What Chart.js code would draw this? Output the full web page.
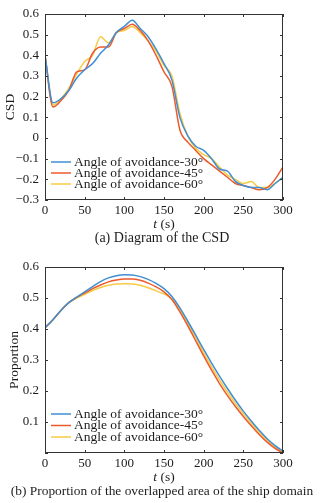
<!DOCTYPE html>
<html>
<head>
<meta charset="utf-8">
<script src="https://cdn.jsdelivr.net/npm/chart.js@4/dist/chart.umd.min.js"></script>
<style>
  html, body { margin: 0; padding: 0; background: #fff; }
  canvas { display: block; }
</style>
</head>
<body>
<canvas id="csdChart" width="324" height="250"></canvas>
<canvas id="propChart" width="324" height="253"></canvas>
<script>
// --- data ---
const seriesNames = ["Angle of avoidance-30°", "Angle of avoidance-45°", "Angle of avoidance-60°"];
const seriesColors = ["#3f8fd4", "#ec5a2c", "#f6cb45"];

const csdTime = [0, 10, 20, 30, 40, 50, 60, 70, 80, 90, 100, 110, 120, 130, 140, 150, 160, 170, 180, 190,
  200, 210, 220, 230, 240, 250, 260, 270, 280, 290, 300];
const csd30 = [0.40, 0.17, 0.19, 0.23, 0.29, 0.33, 0.36, 0.41, 0.45, 0.51, 0.54, 0.57, 0.53, 0.49, 0.43, 0.36,
  0.28, 0.10, 0.01, -0.04, -0.06, -0.10, -0.15, -0.16, -0.21, -0.23, -0.24, -0.24, -0.25, -0.22, -0.19];
const csd45 = [0.40, 0.15, 0.18, 0.23, 0.32, 0.33, 0.41, 0.44, 0.44, 0.51, 0.53, 0.55, 0.52, 0.47, 0.40, 0.32,
  0.25, 0.04, -0.02, -0.06, -0.10, -0.13, -0.16, -0.19, -0.22, -0.23, -0.24, -0.25, -0.24, -0.20, -0.14];
const csd60 = [0.40, 0.16, 0.19, 0.24, 0.31, 0.37, 0.40, 0.49, 0.46, 0.51, 0.52, 0.54, 0.51, 0.47, 0.42, 0.35,
  0.30, 0.12, 0.01, -0.05, -0.08, -0.10, -0.14, -0.18, -0.20, -0.22, -0.21, -0.24, -0.24, -0.22, -0.19];

const propTime = csdTime;
const prop30 = [0.404, 0.43, 0.46, 0.485, 0.503, 0.52, 0.537, 0.553, 0.565, 0.572, 0.575, 0.574, 0.569, 0.560,
  0.547, 0.530, 0.505, 0.468, 0.425, 0.38, 0.334, 0.29, 0.248, 0.208, 0.17, 0.135, 0.103, 0.073, 0.046, 0.024, 0.006];
const prop45 = [0.404, 0.43, 0.46, 0.485, 0.502, 0.516, 0.53, 0.542, 0.552, 0.558, 0.561, 0.561, 0.557, 0.548,
  0.536, 0.52, 0.495, 0.455, 0.41, 0.362, 0.313, 0.267, 0.224, 0.185, 0.15, 0.118, 0.088, 0.06, 0.035, 0.015, 0.0];
const prop60 = [0.404, 0.43, 0.46, 0.485, 0.5, 0.512, 0.524, 0.534, 0.541, 0.545, 0.546, 0.545, 0.541, 0.533,
  0.523, 0.513, 0.497, 0.462, 0.418, 0.372, 0.323, 0.278, 0.236, 0.196, 0.16, 0.127, 0.096, 0.067, 0.042, 0.02, 0.006];

const xTicks = [0, 50, 100, 150, 200, 250, 300];

const FONT = "'Liberation Serif', 'Times New Roman', serif";
const TXT = "#1c1c1c";

function toPoints(xs, ys) {
  return xs.map((x, i) => ({ x: x, y: ys[i] }));
}

function fmt(v) {
  if (Math.abs(v) < 1e-9) return "0";
  return v.toFixed(1).replace("-", "\u2212");
}

// frame, inward ticks, legend, x title and caption
const decorPlugin = {
  id: "decor",
  afterDraw(chart, args, opts) {
    const ctx = chart.ctx;
    const a = chart.chartArea;
    const xs = chart.scales.x, ys = chart.scales.y;
    ctx.save();
    ctx.strokeStyle = "#333";
    ctx.lineWidth = 1;
    ctx.strokeRect(a.left + 0.5, a.top + 0.5, a.right - a.left - 1, a.bottom - a.top - 1);
    ctx.beginPath();
    xs.ticks.forEach(t => {
      const px = Math.round(xs.getPixelForValue(t.value)) + 0.5;
      ctx.moveTo(px, a.bottom); ctx.lineTo(px, a.bottom - 3);
      ctx.moveTo(px, a.top); ctx.lineTo(px, a.top + 3);
    });
    ys.ticks.forEach(t => {
      const py = Math.round(ys.getPixelForValue(t.value)) + 0.5;
      ctx.moveTo(a.left, py); ctx.lineTo(a.left + 3, py);
      ctx.moveTo(a.right, py); ctx.lineTo(a.right - 3, py);
    });
    ctx.stroke();

    // legend
    ctx.font = "13.5px " + FONT;
    ctx.textBaseline = "middle";
    ctx.textAlign = "left";
    chart.data.datasets.forEach((ds, i) => {
      const y = opts.legendY + i * opts.legendGap;
      ctx.strokeStyle = ds.borderColor;
      ctx.lineWidth = 1.5;
      ctx.beginPath();
      ctx.moveTo(opts.legendX, y); ctx.lineTo(opts.legendX + 20, y);
      ctx.stroke();
      ctx.fillStyle = TXT;
      ctx.fillText(ds.label, opts.legendX + 23, y);
    });

    // x axis title: italic t + " (s)"
    ctx.fillStyle = TXT;
    ctx.font = "italic 13.5px " + FONT;
    const w1 = ctx.measureText("t").width;
    ctx.font = "13.5px " + FONT;
    const w2 = ctx.measureText(" (s)").width;
    const cx = (a.left + a.right) / 2;
    let sx = cx - (w1 + w2) / 2;
    ctx.font = "italic 13.5px " + FONT;
    ctx.fillText("t", sx, opts.xTitleY);
    ctx.font = "13.5px " + FONT;
    ctx.fillText(" (s)", sx + w1, opts.xTitleY);

    // caption
    ctx.textAlign = "center";
    ctx.font = opts.captionSize + "px " + FONT;
    ctx.fillText(opts.caption, opts.captionX, opts.captionY);
    ctx.restore();
  }
};

function makeChart(id, xsData, ysList, yMin, yMax, yTitle, titlePad, plotTop, plotBottom, decor, hideZero) {
  const el = document.getElementById(id);
  const H = el.height;
  return new Chart(el.getContext("2d"), {
    type: "line",
    data: {
      datasets: ysList.map((ys, i) => ({
        label: seriesNames[i],
        data: toPoints(xsData, ys),
        borderColor: seriesColors[i],
        borderWidth: 1.5,
        pointRadius: 0,
        tension: 0.3,
        cubicInterpolationMode: "monotone",
        fill: false
      }))
    },
    options: {
      responsive: false,
      animation: false,
      events: [],
      layout: { padding: { top: plotTop, right: 41, left: 0, bottom: 0 } },
      plugins: {
        legend: { display: false },
        tooltip: { enabled: false },
        decor: decor
      },
      scales: {
        x: {
          type: "linear",
          min: 0,
          max: 300,
          afterBuildTicks: (s) => { s.ticks = xTicks.map(v => ({ value: v })); },
          afterFit: (s) => { s.height = H - plotBottom; },
          grid: { display: false, drawTicks: false },
          border: { display: false },
          ticks: { color: TXT, padding: 3, font: { family: FONT, size: 13 }, maxRotation: 0 }
        },
        y: {
          min: yMin,
          max: yMax,
          afterFit: (s) => { s.width = 45; },
          grid: { display: false, drawTicks: false },
          border: { display: false },
          title: { display: true, text: yTitle, color: TXT, padding: { top: titlePad, bottom: 0 }, font: { family: FONT, size: 13.5 } },
          ticks: {
            stepSize: 0.1,
            color: TXT,
            padding: 6,
            font: { family: FONT, size: 13 },
            callback: (v) => (hideZero && Math.abs(v) < 1e-9) ? "" : fmt(v)
          }
        }
      }
    },
    plugins: [decorPlugin]
  });
}

makeChart("csdChart", csdTime, [csd30, csd45, csd60], -0.3, 0.6, "CSD", 2, 14, 200,
  { legendX: 51, legendY: 162, legendGap: 11, xTitleY: 224, caption: "(a) Diagram of the CSD", captionSize: 14, captionX: 162, captionY: 238 }, false);

makeChart("propChart", propTime, [prop30, prop45, prop60], 0, 0.6, "Proportion", 6, 17, 203,
  { legendX: 51, legendY: 164, legendGap: 11.5, xTitleY: 227, caption: "(b) Proportion of the overlapped area of the ship domain", captionSize: 13.4, captionX: 162, captionY: 241 }, true);
</script>
</body>
</html>
